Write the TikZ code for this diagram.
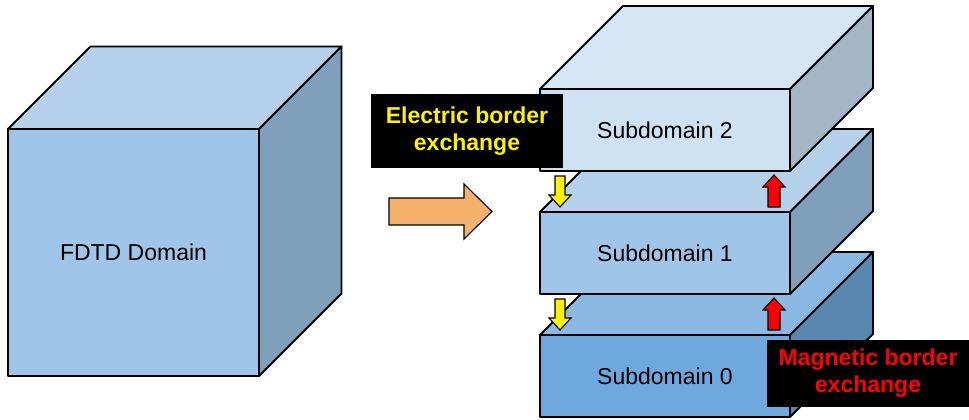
\documentclass[tikz,border=0pt]{standalone}
\usepackage{fontspec}
\setmainfont{Liberation Sans}
\definecolor{cubeFront}{HTML}{9FC5E8}
\definecolor{cubeTop}{HTML}{B4D0EA}
\definecolor{cubeSide}{HTML}{7F9FBA}
\definecolor{paleFront}{HTML}{CFE2F3}
\definecolor{paleTop}{HTML}{D6E6F4}
\definecolor{paleSide}{HTML}{A4B5C6}
\definecolor{deepFront}{HTML}{6FA8DC}
\definecolor{deepTop}{HTML}{8CB9E3}
\definecolor{deepSide}{HTML}{5987B0}
\definecolor{orangeArrow}{HTML}{F6B26B}
% box with front face at (x,y), width w, height h, depth d; y grows downward
\newcommand{\drawslab}[8]{%
  \filldraw[faceline,fill=#7] (#1,#2) -- ++(#5,-#5) -- ++(#3,0) -- ++(-#5,#5) -- cycle;
  \filldraw[faceline,fill=#8] (#1+#3,#2) -- ++(#5,-#5) -- ++(0,#4) -- ++(-#5,#5) -- cycle;
  \filldraw[faceline,fill=#6] (#1,#2) rectangle ++(#3,#4);
}
\tikzset{
  faceline/.style={draw=black,line width=1.9pt,line join=round},
  tipline/.style={draw=black,line width=1.1pt,line join=miter},
  facetext/.style={font=\fontsize{23}{27}\selectfont,text=black},
  tagbox/.style={fill=black,font=\fontsize{23}{27}\selectfont\bfseries,align=center,inner sep=0pt}
}
\begin{document}
\begin{tikzpicture}[x=1pt,y=-1pt]
\useasboundingbox (0,0) rectangle (969,420);

% whole domain
\drawslab{8}{129}{251}{247}{82.5}{cubeFront}{cubeTop}{cubeSide}
\node[facetext] (domain) at (133.5,252.5) {FDTD Domain};

% splitting arrow
\filldraw[tipline,fill=orangeArrow] (389,198) -- (464,198) -- (464,184) -- (492,211.5)
  -- (464,239) -- (464,225) -- (389,225) -- cycle;

% stacked subdomains, bottom first
\drawslab{540}{335}{250}{82}{83}{deepFront}{deepTop}{deepSide}
\node[facetext] (sub0) at (665,376) {Subdomain 0};
\drawslab{540}{212}{250}{82}{83}{cubeFront}{cubeTop}{cubeSide}
\node[facetext] (sub1) at (665,253) {Subdomain 1};
\drawslab{540}{89}{250}{82}{83}{paleFront}{paleTop}{paleSide}
\node[facetext] (sub2) at (665,130) {Subdomain 2};

% border exchange arrows between neighbouring subdomains
\foreach \dy in {0,123}{
  \filldraw[tipline,fill=yellow] (555,176+\dy) -- (565,176+\dy) -- (565,195+\dy) -- (571,195+\dy)
    -- (560,207+\dy) -- (549,195+\dy) -- (555,195+\dy) -- cycle;
  \filldraw[tipline,fill=red] (768,207+\dy) -- (780,207+\dy) -- (780,187+\dy) -- (785,187+\dy)
    -- (774,175+\dy) -- (763,187+\dy) -- (768,187+\dy) -- cycle;
}

% labels
\node[tagbox,text=yellow,minimum width=192pt,minimum height=74pt] (electric) at (467,131)
  {Electric border\\exchange};
\node[tagbox,text=red,minimum width=202pt,minimum height=67pt] (magnetic) at (868,373.5)
  {Magnetic border\\exchange};
\end{tikzpicture}
\end{document}
